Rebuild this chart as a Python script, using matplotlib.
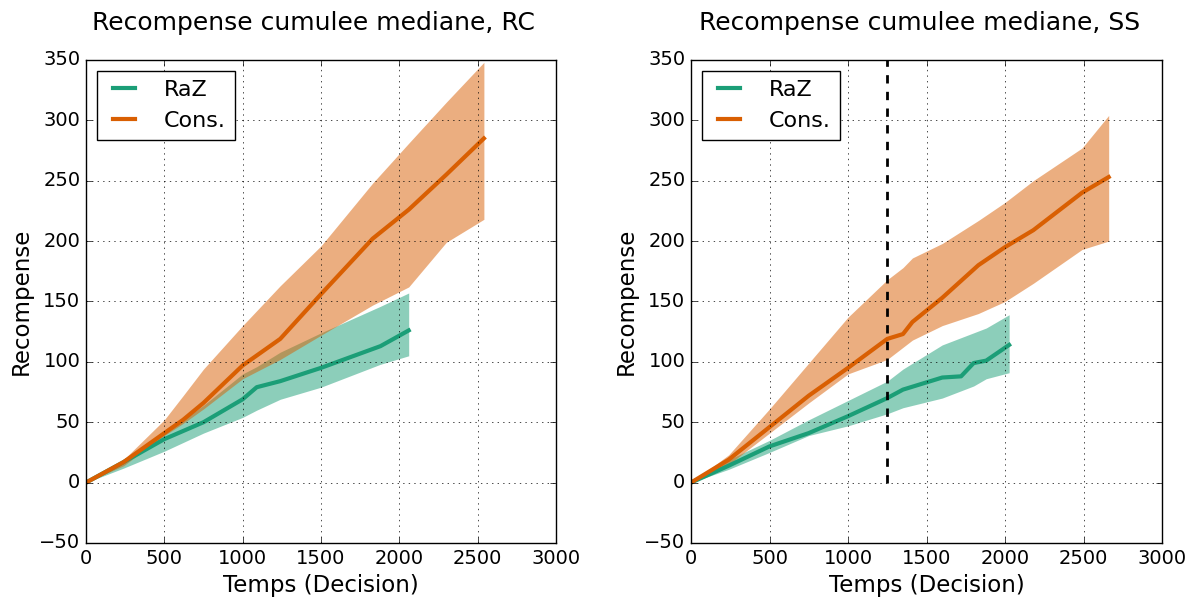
import matplotlib
matplotlib.use("Agg")
import matplotlib.pyplot as plt

plt.style.use("classic")

GREEN = "#1b9e77"
ORANGE = "#d95f02"

# RC panel
RC_CONS_X = [0, 240, 500, 620, 750, 1000, 1240, 1500, 1830, 2060, 2300, 2540]
RC_CONS_MED = [0, 17, 41, 52, 66, 97, 119, 156, 202, 226, 255, 285]
RC_CONS_UP = [0, 19, 52, 72, 94, 130, 163, 196, 248, 281, 315, 348]
RC_CONS_LOW = [0, 14, 39, 49, 61, 86, 102, 122, 147, 162, 199, 218]

RC_RAZ_X = [0, 240, 500, 750, 1000, 1090, 1240, 1500, 1880, 2060]
RC_RAZ_MED = [0, 17, 36, 50, 69, 79, 84, 95, 113, 126]
RC_RAZ_UP = [0, 19, 41, 64, 90, 96, 108, 124, 146, 157]
RC_RAZ_LOW = [0, 12, 26, 41, 54, 60, 69, 79, 98, 105]

# SS panel
SS_CONS_X = [0, 240, 500, 750, 1000, 1250, 1350, 1410, 1600, 1830, 2000, 2180, 2490, 2660]
SS_CONS_MED = [0, 19, 46, 72, 95, 119, 123, 133, 153, 180, 195, 209, 240, 253]
SS_CONS_UP = [0, 23, 61, 99, 137, 168, 178, 186, 198, 217, 232, 250, 277, 304]
SS_CONS_LOW = [0, 15, 41, 66, 90, 102, 112, 118, 130, 140, 150, 165, 193, 200]

SS_RAZ_X = [0, 240, 500, 750, 1000, 1250, 1350, 1600, 1720, 1800, 1880, 2026]
SS_RAZ_MED = [0, 14, 30, 41, 55, 70, 77, 87, 88, 99, 101, 114]
SS_RAZ_UP = [0, 19, 35, 52, 68, 84, 94, 114, 120, 124, 128, 139]
SS_RAZ_LOW = [0, 11, 25, 39, 47, 57, 62, 70, 76, 80, 86, 91]

SWITCH_X = 1250


def panel(ax, title, raz, cons):
    for (x, med, up, low), color, label in ((raz, GREEN, "RaZ"), (cons, ORANGE, "Cons.")):
        ax.fill_between(x, low, up, color=color, alpha=0.5, linewidth=0)
        ax.plot(x, med, color=color, linewidth=3, label=label)
    ax.set_xlim(0, 3000)
    ax.set_ylim(-50, 350)
    ax.set_title(title, fontsize=18, x=0.485, y=1.047)
    ax.set_xlabel("Temps (Decision)", fontsize=16.5)
    ax.set_ylabel("Recompense", fontsize=16.5)
    ax.tick_params(labelsize=14)
    ax.grid(True)
    ax.legend(loc="upper left", fontsize=16, handlelength=1.6, handletextpad=1.0)


fig = plt.figure(figsize=(11.91, 5.99), dpi=100, facecolor="white")
ax1 = fig.add_axes([0.0722, 0.0935, 0.3946, 0.8065])
ax2 = fig.add_axes([0.5802, 0.0935, 0.3955, 0.8065])

panel(ax1, "Recompense cumulee mediane, RC",
      (RC_RAZ_X, RC_RAZ_MED, RC_RAZ_UP, RC_RAZ_LOW),
      (RC_CONS_X, RC_CONS_MED, RC_CONS_UP, RC_CONS_LOW))
panel(ax2, "Recompense cumulee mediane, SS",
      (SS_RAZ_X, SS_RAZ_MED, SS_RAZ_UP, SS_RAZ_LOW),
      (SS_CONS_X, SS_CONS_MED, SS_CONS_UP, SS_CONS_LOW))
ax2.plot([SWITCH_X, SWITCH_X], [0, 350], "k--", linewidth=2)

fig.savefig("out.png", dpi=100, facecolor="white")
